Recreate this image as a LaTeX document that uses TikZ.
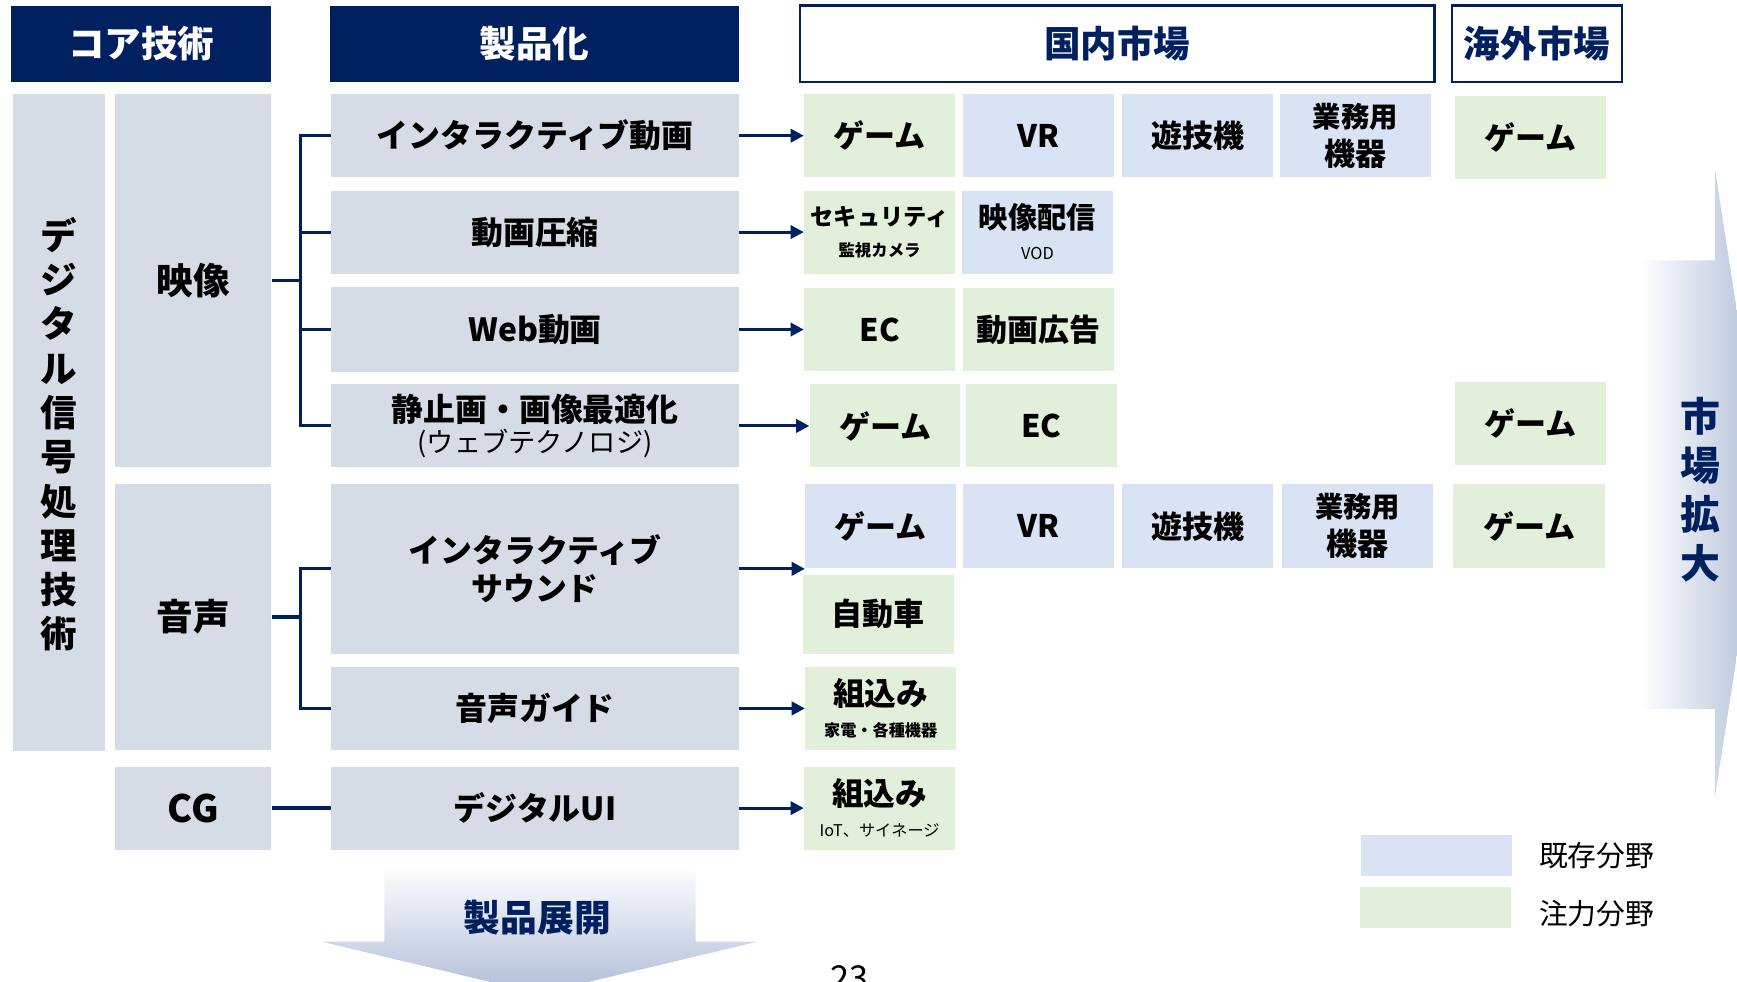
\documentclass[tikz,border=0pt]{standalone}
\usepackage{fontspec}
\setmainfont{Noto Sans CJK JP}
\usetikzlibrary{arrows.meta}
\definecolor{navy}{RGB}{0,32,96}
\definecolor{grayc}{RGB}{214,220,229}
\definecolor{bluec}{RGB}{218,227,243}
\definecolor{greenc}{RGB}{226,239,218}
\definecolor{arrowend}{RGB}{176,190,216}
\newcommand\mkbox[7]{\node[#1, minimum width={(#4-#2)*0.5pt}, minimum height={(#5-#3)*0.5pt}] (#6) at ({(#2+#4)/2},{(#3+#5)/2}) {#7};}
\newcommand\fs[2]{\fontsize{#1}{#2}\selectfont}
\tikzset{
  base/.style={rectangle, inner sep=0pt, align=center, font=\bfseries\fs{14}{17}},
  hdr/.style={base, fill=navy, text=white, font=\bfseries\fs{16.5}{20}},
  hdrw/.style={base, fill=white, draw=navy, line width=1pt, text=navy, font=\bfseries\fs{16.5}{20}},
  gry/.style={base, fill=grayc},
  prod/.style={gry, font=\bfseries\fs{14.4}{17}},
  tech/.style={gry, font=\bfseries\fs{16.5}{20}},
  blu/.style={base, fill=bluec},
  grn/.style={base, fill=greenc},
  ln/.style={draw=navy, line width=1.4pt},
  arr/.style={draw=navy, line width=1.4pt, -{Triangle[length=6pt,width=6pt]}},
  legtxt/.style={anchor=west, inner sep=0pt, font=\fs{13}{15}},
  bigtxt/.style={inner sep=0pt, align=center, text=navy, font=\bfseries\fs{16.6}{20}}
}
\begin{document}
\begin{tikzpicture}[x=0.5pt,y=-0.5pt]
\useasboundingbox (0,0) rectangle (1568,886);
\clip (0,0) rectangle (1568,886);
% headers
\mkbox{hdr}{10}{5}{245}{74}{h1}{コア技術}
\mkbox{hdr}{298}{5}{667}{74}{h2}{製品化}
\mkbox{hdrw}{722}{5}{1295}{74}{h3}{国内市場}
\mkbox{hdrw}{1311}{5}{1464}{74}{h4}{海外市場}
% core tech
\mkbox{tech}{12}{85}{95}{678}{dsp}{}
\node[inner sep=0pt, align=center, font=\bfseries\fs{16.5}{20}] (dsptxt) at (53,392) {デ\\ジ\\タ\\ル\\信\\号\\処\\理\\技\\術};
\mkbox{tech}{104}{85}{245}{422}{eizo}{映像}
\mkbox{tech}{104}{437}{245}{677}{onsei}{音声}
\mkbox{tech}{104}{692}{245}{767}{cg}{\fs{17}{20}CG}
% products
\mkbox{prod}{299}{85}{667}{160}{p1}{インタラクティブ動画}
\mkbox{prod}{299}{172}{667}{247}{p2}{動画圧縮}
\mkbox{prod}{299}{259}{667}{336}{p3}{Web動画}
\mkbox{prod}{299}{347}{667}{422}{p4}{静止画・画像最適化\\[-3pt]{\fs{12.3}{14}\mdseries (ウェブテクノロジ)}}
\mkbox{prod}{299}{437}{667}{590}{p5}{インタラクティブ\\サウンド}
\mkbox{prod}{299}{602}{667}{677}{p6}{音声ガイド}
\mkbox{prod}{299}{692}{667}{767}{p7}{デジタルUI}
% markets row 1
\mkbox{grn}{726}{85}{862}{160}{m11}{ゲーム}
\mkbox{blu}{869}{85}{1006}{160}{m12}{VR}
\mkbox{blu}{1013}{85}{1149}{160}{m13}{遊技機}
\mkbox{blu}{1155}{85}{1292}{160}{m14}{\fs{12.8}{16}業務用\\機器}
\mkbox{grn}{1313}{87}{1450}{162}{o1}{ゲーム}
% row 2
\mkbox{grn}{726}{172}{862}{247}{m21}{{\fs{10.5}{12}セキュリティ}\\[-3pt]{\fs{7.4}{9}監視カメラ}}
\mkbox{blu}{868}{172}{1005}{247}{m22}{{\fs{13.2}{15}映像配信}\\[-3pt]{\fs{7.4}{9}\mdseries VOD}}
% row 3
\mkbox{grn}{726}{260}{862}{335}{m31}{EC}
\mkbox{grn}{869}{260}{1006}{335}{m32}{動画広告}
% row 4
\mkbox{grn}{731}{347}{867}{422}{m41}{ゲーム}
\mkbox{grn}{872}{347}{1008}{422}{m42}{EC}
\mkbox{grn}{1313}{345}{1450}{420}{o4}{ゲーム}
% row 5
\mkbox{blu}{727}{437}{863}{513}{m51}{ゲーム}
\mkbox{blu}{869}{437}{1006}{513}{m52}{VR}
\mkbox{blu}{1013}{437}{1149}{513}{m53}{遊技機}
\mkbox{blu}{1157}{437}{1294}{513}{m54}{\fs{12.8}{16}業務用\\機器}
\mkbox{grn}{1312}{437}{1449}{513}{o5}{ゲーム}
% row 6
\mkbox{grn}{725}{519}{861}{590}{m61}{自動車}
% row 7
\mkbox{grn}{727}{602}{863}{677}{m71}{{\fs{14.3}{16}組込み}\\[-3pt]{\fs{7.3}{9}家電・各種機器}}
% row 8
\mkbox{grn}{726}{692}{862}{767}{m81}{{\fs{14.3}{16}組込み}\\[-3pt]{\fs{7.3}{9}\mdseries IoT、サイネージ}}
% legend
\mkbox{blu}{1229}{754}{1365}{791}{lg1}{}
\mkbox{grn}{1228}{801}{1364}{838}{lg2}{}
\node[legtxt] (lt1) at (1389,772) {既存分野};
\node[legtxt] (lt2) at (1389,825) {注力分野};
% tree connectors
\path (eizo.east) ++(26,0) coordinate (bv);
\draw[ln] (eizo.east) -- (bv);
\draw[ln] (p1.west) -| (bv) |- (p4.west);
\draw[ln] (bv |- p2.west) -- (p2.west);
\draw[ln] (bv |- p3.west) -- (p3.west);
\path (onsei.east) ++(26,0) coordinate (bs);
\draw[ln] (onsei.east) -- (bs);
\draw[ln] (p5.west) -| (bs) |- (p6.west);
\draw[ln, line width=2pt] (cg.east) -- (p7.west);
% arrows to markets
\draw[arr] (p1.east) -- (p1.east -| m11.west);
\draw[arr] (p2.east) -- (p2.east -| m21.west);
\draw[arr] (p3.east) -- (p3.east -| m31.west);
\draw[arr] (p4.east) -- (p4.east -| m41.west);
\draw[arr] (p5.east) -- (p5.east -| m51.west);
\draw[arr] (p6.east) -- (p6.east -| m71.west);
\draw[arr] (p7.east) -- (p7.east -| m81.west);
% big arrows
\shade[top color=white, bottom color=arrowend] (347,780) -- (628,780) -- (628,850) -- (684,850) -- (487,897) -- (290,850) -- (347,850) -- cycle;
\node[bigtxt] (tenkai) at (485,828) {製品展開};
\shade[left color=white, right color=arrowend] (1480,235) -- (1548,235) -- (1548,152) -- (1592,436) -- (1548,720) -- (1548,640) -- (1480,640) -- cycle;
\node[bigtxt, font=\bfseries\fs{18}{22}] (kakudai) at (1535,442) {市\\場\\拡\\大};
% page number (cut off at the bottom edge, as in the reference)
\node[anchor=base, inner sep=0pt, font=\fs{15.5}{18}] (pg) at (767,894) {23};
\end{tikzpicture}
\end{document}
